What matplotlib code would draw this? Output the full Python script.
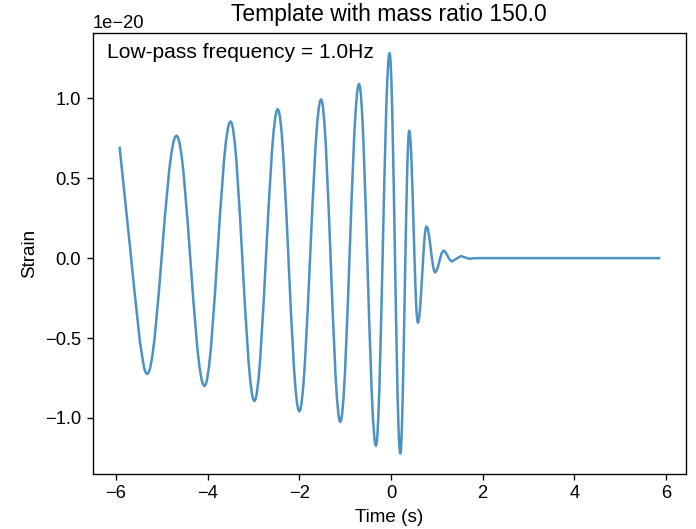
import numpy as np
import matplotlib
matplotlib.use("Agg")
import matplotlib.pyplot as plt

plt.rcParams['font.family'] = ['Liberation Sans', 'DejaVu Sans']

# Waveform samples (time in s, strain in units of 1e-20)
time_s = [
    -5.92, -5.84, -5.76, -5.68, -5.61, -5.54, -5.48, -5.42, -5.384, -5.352,
    -5.32, -5.288, -5.256, -5.208, -5.16, -5.064, -5.00, -4.936, -4.84, -4.792, -4.744, -4.712,
    -4.68, -4.6495, -4.619, -4.5733, -4.5275, -4.436, -4.375, -4.314, -4.2225, -4.1768, -4.131, -4.1005,
    -4.07, -4.0415, -4.013, -3.9703, -3.9275, -3.842, -3.785, -3.728, -3.6425, -3.5998, -3.557, -3.5285,
    -3.50, -3.474, -3.448, -3.409, -3.37, -3.292, -3.24, -3.188, -3.11, -3.071, -3.032, -3.006,
    -2.98, -2.9545, -2.929, -2.8908, -2.8525, -2.776, -2.725, -2.674, -2.5975, -2.5593, -2.521, -2.4955,
    -2.47, -2.4465, -2.423, -2.3878, -2.3525, -2.282, -2.235, -2.188, -2.1175, -2.0823, -2.047, -2.0235,
    -2.00, -1.9763, -1.9525, -1.9169, -1.881, -1.81, -1.7625, -1.715, -1.644, -1.6081, -1.5725, -1.5488,
    -1.525, -1.504, -1.483, -1.4515, -1.42, -1.357, -1.315, -1.273, -1.21, -1.1785, -1.147, -1.126,
    -1.105, -1.0846, -1.0642, -1.0336, -1.003, -0.9418, -0.901, -0.8602, -0.799, -0.7684, -0.7378, -0.7174,
    -0.697, -0.6785, -0.66, -0.6323, -0.6045, -0.549, -0.512, -0.475, -0.4195, -0.3918, -0.364, -0.3455,
    -0.327, -0.3122, -0.2973, -0.275, -0.2527, -0.2082, -0.1785, -0.1488, -0.1043, -0.082, -0.0597, -0.0449,
    -0.03, -0.0184, -0.0067, 0.0108, 0.0283, 0.0632, 0.0865, 0.1098, 0.1448, 0.1622, 0.1797, 0.1914,
    0.203, 0.2128, 0.2226, 0.2373, 0.252, 0.2814, 0.301, 0.3206, 0.35, 0.3647, 0.3794, 0.3892,
    0.399, 0.4085, 0.4179, 0.4321, 0.4463, 0.4746, 0.4935, 0.5124, 0.5408, 0.5549, 0.5691, 0.5786,
    0.588, 0.5974, 0.6067, 0.6207, 0.6348, 0.6628, 0.6815, 0.7002, 0.7283, 0.7423, 0.7563, 0.7657,
    0.775, 0.794, 0.8083, 0.8225, 0.851, 0.87, 0.889, 0.9175, 0.9318, 0.946,
    0.965, 1.010, 1.0555, 1.101, 1.146, 1.192, 1.238, 1.284, 1.33, 1.4275,
    1.525, 1.6155, 1.706, 1.80, 1.90, 2.5, 3.5, 4.5, 5.85,
]
strain_e20 = [
    0.69, 0.47, 0.25, 0.03, -0.17, -0.36, -0.52, -0.63, -0.69, -0.716,
    -0.725, -0.716, -0.689, -0.615, -0.507, -0.210, 0.020, 0.251, 0.548, 0.656, 0.730, 0.757,
    0.766, 0.756, 0.728, 0.651, 0.537, 0.225, -0.017, -0.259, -0.571, -0.685, -0.762, -0.790,
    -0.800, -0.790, -0.760, -0.678, -0.558, -0.228, 0.028, 0.283, 0.613, 0.733, 0.814, 0.845,
    0.855, 0.844, 0.812, 0.726, 0.599, 0.251, -0.020, -0.290, -0.638, -0.765, -0.851, -0.883,
    -0.894, -0.883, -0.849, -0.759, -0.627, -0.263, 0.019, 0.301, 0.665, 0.797, 0.887, 0.921,
    0.932, 0.920, 0.886, 0.793, 0.655, 0.279, -0.014, -0.306, -0.682, -0.820, -0.913, -0.947,
    -0.959, -0.947, -0.911, -0.815, -0.673, -0.284, 0.018, 0.319, 0.708, 0.850, 0.946, 0.982,
    0.994, 0.982, 0.945, 0.845, 0.698, 0.296, -0.016, -0.327, -0.729, -0.876, -0.976, -1.013,
    -1.025, -1.012, -0.973, -0.869, -0.715, -0.294, 0.033, 0.359, 0.780, 0.934, 1.038, 1.077,
    1.090, 1.076, 1.035, 0.923, 0.758, 0.308, -0.042, -0.392, -0.842, -1.007, -1.119, -1.160,
    -1.174, -1.159, -1.114, -0.993, -0.814, -0.325, 0.054, 0.434, 0.923, 1.102, 1.223, 1.268,
    1.283, 1.268, 1.222, 1.098, 0.916, 0.418, 0.031, -0.357, -0.855, -1.037, -1.161, -1.207,
    -1.222, -1.210, -1.173, -1.073, -0.926, -0.524, -0.213, 0.099, 0.501, 0.648, 0.748, 0.785,
    0.797, 0.790, 0.768, 0.709, 0.621, 0.382, 0.197, 0.011, -0.228, -0.316, -0.375, -0.397,
    -0.404, -0.400, -0.389, -0.360, -0.316, -0.196, -0.103, -0.010, 0.110, 0.154, 0.183, 0.194,
    0.198, 0.191, 0.177, 0.156, 0.099, 0.054, 0.010, -0.048, -0.069, -0.083,
    -0.090, -0.070, -0.0215, 0.027, 0.047, 0.037, 0.013, -0.011, -0.021, -0.004,
    0.013, 0.0045, -0.004, -0.001, 0.0, 0.0, 0.0, 0.0, 0.0,
]
scale = 1e-20

title_text = "Template with mass ratio 150.0"
note_text = "Low-pass frequency = 1.0Hz"
x_label = "Time (s)"
y_label = "Strain"
x_ticks = [-6, -4, -2, 0, 2, 4, 6]

fig = plt.figure(figsize=(696 / 120, 529 / 120), dpi=120)
ax = fig.add_axes([92.7 / 696, 1 - 473.5 / 529, 593.3 / 696, 440.5 / 529])

ax.plot(np.array(time_s), np.array(strain_e20) * scale, color='#1f77b4', alpha=0.8, lw=1.5)
ax.set_title(title_text, fontsize=13.7, pad=7)
ax.set_xlabel(x_label, fontsize=11.3)
ax.set_ylabel(y_label, fontsize=11.3)
ax.text(0.024, 0.977, note_text, transform=ax.transAxes, fontsize=12.6, va='top', ha='left')
ax.set_xticks(x_ticks)
ax.tick_params(labelsize=11)
ax.yaxis.get_offset_text().set_fontsize(11)

fig.savefig("out.png", dpi=120)
